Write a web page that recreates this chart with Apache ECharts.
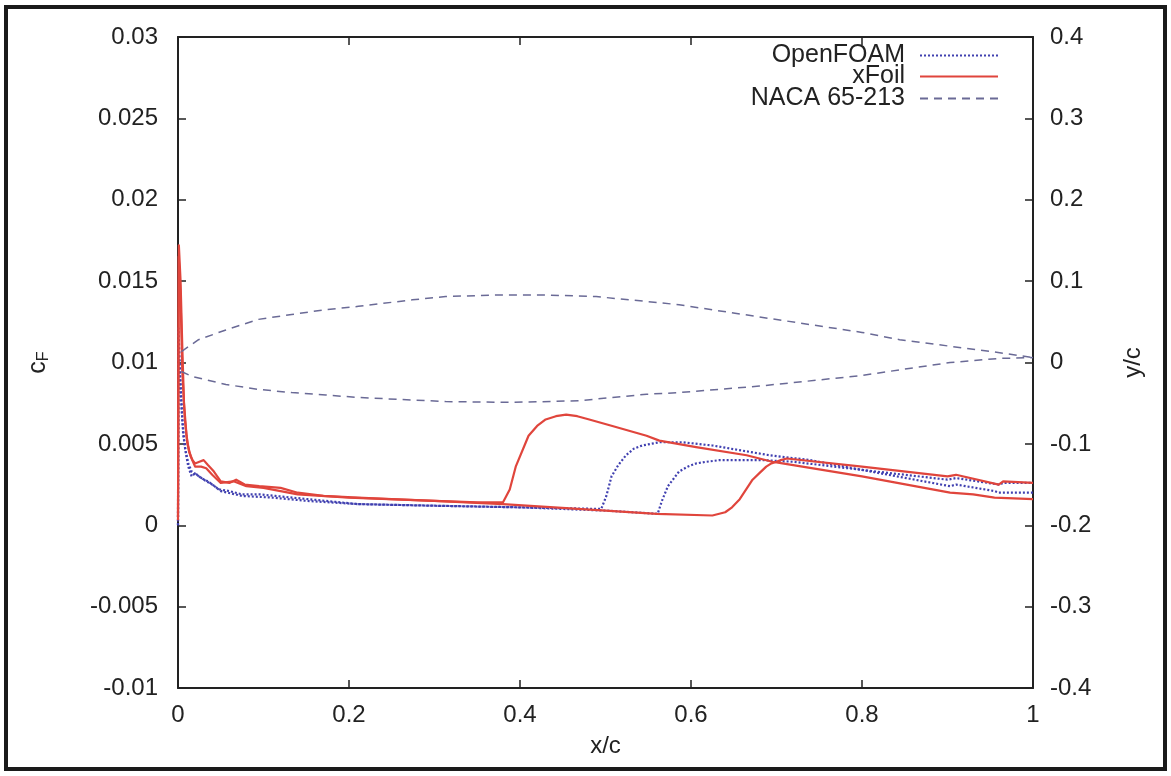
<!DOCTYPE html>
<html>
<head>
<meta charset="utf-8">
<title>Skin friction coefficient, NACA 65-213</title>
<script src="https://cdn.jsdelivr.net/npm/echarts@6/dist/echarts.min.js"></script>
<style>
  html, body { margin: 0; padding: 0; background: #fff; }
  #chart { width: 1171px; height: 776px; }
</style>
</head>
<body>
<div id="chart"></div>
<script>
// Skin friction coefficient cF along the chord, upper and lower surfaces, [x/c, cF]
const openfoamUpper = [
  [0.0, 0.0], [0.0005, 0.0121], [0.002, 0.0100], [0.004, 0.0075], [0.006, 0.0056],
  [0.009, 0.0045], [0.012, 0.0036], [0.016, 0.0030], [0.020, 0.0032], [0.027, 0.0029],
  [0.035, 0.0027], [0.048, 0.0022], [0.060, 0.0021], [0.075, 0.0019], [0.095, 0.0019],
  [0.114, 0.0018], [0.153, 0.0016], [0.21, 0.0013], [0.30, 0.0012], [0.40, 0.0011],
  [0.495, 0.0010], [0.501, 0.0018], [0.507, 0.0030], [0.515, 0.0037], [0.524, 0.0043],
  [0.533, 0.0047], [0.543, 0.0049], [0.553, 0.0050], [0.563, 0.0051], [0.575, 0.0051],
  [0.590, 0.0051], [0.625, 0.0049], [0.692, 0.0043], [0.74, 0.0040], [0.80, 0.0034],
  [0.903, 0.0024], [0.91, 0.0025], [0.955, 0.0021], [0.96, 0.0020], [1.0, 0.0020]
];
const openfoamLower = [
  [0.0, 0.0], [0.0008, 0.0105], [0.003, 0.0085], [0.005, 0.0065], [0.008, 0.0048],
  [0.012, 0.0038], [0.016, 0.0033], [0.022, 0.0031], [0.030, 0.0028], [0.040, 0.0025],
  [0.050, 0.0021], [0.075, 0.0018], [0.11, 0.0017], [0.15, 0.0015], [0.21, 0.0013],
  [0.30, 0.0012], [0.40, 0.0011], [0.50, 0.0009], [0.561, 0.0007], [0.566, 0.0015],
  [0.573, 0.0024], [0.586, 0.0033], [0.596, 0.0036], [0.606, 0.0038], [0.618, 0.0039],
  [0.633, 0.0040], [0.684, 0.0040], [0.72, 0.0039], [0.80, 0.0034], [0.90, 0.0028],
  [0.91, 0.0029], [0.96, 0.0025], [0.965, 0.0026], [1.0, 0.0026]
];
const xfoilUpper = [
  [0.0, 0.0003], [0.001, 0.0172], [0.003, 0.0150], [0.005, 0.0110], [0.007, 0.0075],
  [0.010, 0.0055], [0.013, 0.0045], [0.017, 0.0040], [0.020, 0.0038], [0.025, 0.0039],
  [0.030, 0.0040], [0.035, 0.0037], [0.042, 0.0033], [0.050, 0.0027], [0.060, 0.0026],
  [0.068, 0.0028], [0.078, 0.0025], [0.095, 0.0024], [0.12, 0.0023], [0.14, 0.0020],
  [0.17, 0.0018], [0.21, 0.0017], [0.25, 0.0016], [0.30, 0.0015], [0.35, 0.0014],
  [0.38, 0.0014], [0.388, 0.0022], [0.395, 0.0036], [0.410, 0.0055], [0.420, 0.0061],
  [0.430, 0.0065], [0.442, 0.0067], [0.454, 0.0068], [0.467, 0.0067], [0.481, 0.0065],
  [0.508, 0.0061], [0.548, 0.0055], [0.563, 0.0052], [0.606, 0.0048], [0.665, 0.0043],
  [0.695, 0.0039], [0.707, 0.0038], [0.80, 0.0030], [0.903, 0.0020], [0.93, 0.0019],
  [0.955, 0.0017], [1.0, 0.0016]
];
const xfoilLower = [
  [0.0, 0.0005], [0.0008, 0.0165], [0.003, 0.0140], [0.005, 0.0095], [0.008, 0.0065],
  [0.011, 0.0050], [0.015, 0.0042], [0.020, 0.0036], [0.027, 0.0036], [0.033, 0.0035],
  [0.040, 0.0031], [0.050, 0.0026], [0.065, 0.0027], [0.080, 0.0024], [0.10, 0.0023],
  [0.14, 0.0019], [0.20, 0.0017], [0.30, 0.0015], [0.38, 0.0013], [0.50, 0.0009],
  [0.56, 0.0007], [0.625, 0.0006], [0.640, 0.0008], [0.648, 0.0011], [0.657, 0.0016],
  [0.672, 0.0028], [0.680, 0.0032], [0.688, 0.0036], [0.694, 0.0038], [0.700, 0.0039],
  [0.705, 0.0040], [0.712, 0.0041], [0.80, 0.0036], [0.90, 0.0030], [0.91, 0.0031],
  [0.96, 0.0025], [0.965, 0.0027], [1.0, 0.0026]
];

// NACA 65-213 section contour, [x/c, y/c]
const nacaUpper = [
  [0.004, 0.0135], [0.024, 0.028], [0.056, 0.040], [0.094, 0.053], [0.133, 0.059],
  [0.173, 0.065], [0.211, 0.069], [0.274, 0.077], [0.313, 0.081], [0.372, 0.083],
  [0.430, 0.083], [0.489, 0.081], [0.548, 0.075], [0.586, 0.071], [0.680, 0.056],
  [0.80, 0.037], [0.844, 0.028], [0.903, 0.020], [0.961, 0.012], [1.0, 0.006]
];
const nacaLower = [
  [0.004, -0.011], [0.016, -0.017], [0.056, -0.027], [0.094, -0.033], [0.133, -0.037],
  [0.173, -0.040], [0.211, -0.043], [0.313, -0.048], [0.391, -0.049], [0.469, -0.047],
  [0.548, -0.039], [0.586, -0.037], [0.680, -0.029], [0.80, -0.016], [0.844, -0.009],
  [0.903, 0.0], [0.961, 0.005], [1.0, 0.006]
];

// Axis ranges and tick spacing
const xRange = [0, 1, 0.2];
const cfRange = [-0.01, 0.03, 0.005];
const ycRange = [-0.4, 0.4, 0.1];

const FONT = '"Liberation Sans", Arial, Helvetica, sans-serif';
const FS = 24;
const INK = '#222';
const RED = '#e0453c';
const BLUE = '#4040b0';
const GREY = '#6a6a96';

const fmt = v => String(Math.round(v * 1000) / 1000);

const chart = echarts.init(document.getElementById('chart'), null, { renderer: 'canvas' });

const axisCommon = {
  axisLine: { show: true, onZero: false, lineStyle: { color: INK, width: 2 } },
  axisTick: { show: true, inside: true, length: 8, lineStyle: { color: INK, width: 1.5 } },
  splitLine: { show: false },
  axisLabel: { color: INK, fontFamily: FONT, fontSize: FS }
};

// One legend block per entry so every sample line ends at the same right edge
function legendFor(name, top) {
  return {
    data: [name],
    right: 172,
    top: top,
    align: 'right',
    orient: 'vertical',
    itemWidth: 78,
    itemHeight: 14,
    padding: 0,
    selectedMode: false,
    itemStyle: { opacity: 0 },
    textStyle: { color: INK, fontFamily: FONT, fontSize: 25, padding: [0, 10, 0, 0] }
  };
}

const lineSeries = (name, data, color, type, width, yIndex) => ({
  name: name,
  type: 'line',
  data: data,
  yAxisIndex: yIndex,
  showSymbol: false,
  symbol: 'none',
  smooth: false,
  animation: false,
  lineStyle: { color: color, type: type, width: width, join: 'round' },
  itemStyle: { color: color }
});

chart.setOption({
  backgroundColor: '#fff',
  animation: false,
  grid: { left: 178, right: 138, top: 37, bottom: 88, containLabel: false },
  legend: [
    legendFor('OpenFOAM', 43),
    legendFor('xFoil', 64),
    legendFor('NACA 65-213', 86)
  ],
  xAxis: [
    Object.assign({}, axisCommon, {
      type: 'value', position: 'bottom',
      min: xRange[0], max: xRange[1], interval: xRange[2],
      name: 'x/c', nameLocation: 'middle', nameGap: 46,
      nameTextStyle: { color: INK, fontFamily: FONT, fontSize: FS },
      axisLabel: Object.assign({}, axisCommon.axisLabel, { margin: 15, formatter: fmt })
    }),
    Object.assign({}, axisCommon, {
      type: 'value', position: 'top',
      min: xRange[0], max: xRange[1], interval: xRange[2],
      axisLabel: { show: false }
    })
  ],
  yAxis: [
    Object.assign({}, axisCommon, {
      type: 'value', position: 'left',
      min: cfRange[0], max: cfRange[1], interval: cfRange[2],
      name: '{c|c}{f|F}', nameLocation: 'middle', nameGap: 126, nameRotate: 90,
      nameTextStyle: {
        color: INK, fontFamily: FONT,
        rich: {
          c: { fontSize: 25, fontFamily: FONT, color: INK },
          f: { fontSize: 16, fontFamily: FONT, color: INK, padding: [11, 0, 0, 0] }
        }
      },
      axisLabel: Object.assign({}, axisCommon.axisLabel, { margin: 20, formatter: fmt })
    }),
    Object.assign({}, axisCommon, {
      type: 'value', position: 'right',
      min: ycRange[0], max: ycRange[1], interval: ycRange[2],
      name: 'y/c', nameLocation: 'middle', nameGap: 88, nameRotate: 90,
      nameTextStyle: { color: INK, fontFamily: FONT, fontSize: FS },
      axisLabel: Object.assign({}, axisCommon.axisLabel, { margin: 17, formatter: fmt })
    })
  ],
  series: [
    lineSeries('OpenFOAM', openfoamUpper, BLUE, [2, 2], 2.2, 0),
    lineSeries('OpenFOAM', openfoamLower, BLUE, [2, 2], 2.2, 0),
    lineSeries('xFoil', xfoilUpper, RED, 'solid', 2.2, 0),
    lineSeries('xFoil', xfoilLower, RED, 'solid', 2.2, 0),
    lineSeries('NACA 65-213', nacaUpper, GREY, [8, 6], 1.5, 1),
    lineSeries('NACA 65-213', nacaLower, GREY, [8, 6], 1.5, 1)
  ],
  graphic: [
    {
      type: 'rect',
      silent: true,
      shape: { x: 6, y: 7, width: 1159, height: 762 },
      style: { fill: 'none', stroke: '#1a1a1a', lineWidth: 4 }
    }
  ]
});
</script>
</body>
</html>
